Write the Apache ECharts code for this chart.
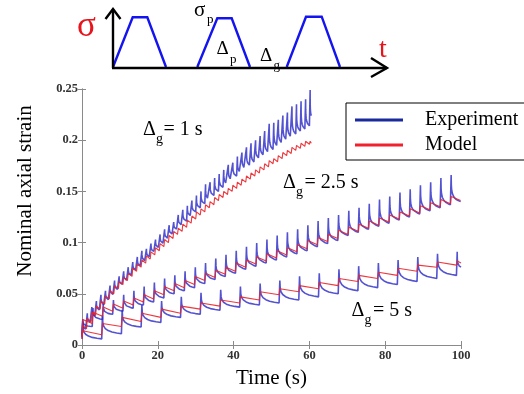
<!DOCTYPE html>
<html>
<head>
<meta charset="utf-8">
<script src="https://cdn.jsdelivr.net/npm/echarts@6/dist/echarts.min.js"></script>
<style>
html,body{margin:0;padding:0;background:#fff;}
#chart{width:524px;height:394px;}
</style>
</head>
<body>
<div id="chart"></div>
<script>
// ---- Data ----
const xTicks = [0, 20, 40, 60, 80, 100];
const yTicks = [0, 0.05, 0.1, 0.15, 0.2, 0.25];
const legendNames = ['Experiment', 'Model'];

// Cycle periods (load + gap) in seconds, and end time of each test
const period1 = 1.2, period25 = 2.7, period5 = 5.2;
const end1 = 60.5, end25 = 100, end5 = 100;
const start1 = 0.010, start25 = 0.008, start5 = 0.006;

// Delta_g = 1 s : per cycle peak / end-of-cycle values
const expPeak1 = [0.024,0.031,0.037,0.043,0.049,0.053,0.058,0.063,0.067,0.072,
  0.076,0.081,0.086,0.092,0.094,0.099,0.103,0.108,0.113,0.117,
  0.120,0.127,0.132,0.136,0.141,0.146,0.150,0.157,0.159,0.163,
  0.167,0.171,0.176,0.178,0.184,0.188,0.193,0.197,0.200,0.204,
  0.209,0.216,0.217,0.220,0.224,0.227,0.233,0.235,0.238,0.240,0.249];
const expTrough1 = [0.015,0.022,0.028,0.034,0.039,0.044,0.049,0.054,0.059,0.063,
  0.068,0.073,0.077,0.082,0.086,0.091,0.095,0.099,0.104,0.108,
  0.113,0.117,0.121,0.126,0.130,0.134,0.138,0.142,0.146,0.150,
  0.154,0.157,0.161,0.165,0.168,0.172,0.175,0.178,0.182,0.185,
  0.188,0.191,0.194,0.197,0.200,0.203,0.206,0.209,0.211,0.214,0.224];
const modelHigh1 = [0.019,0.026,0.032,0.038,0.043,0.048,0.053,0.058,0.062,0.066,
  0.070,0.075,0.079,0.083,0.087,0.091,0.095,0.099,0.103,0.107,
  0.111,0.114,0.118,0.122,0.126,0.130,0.133,0.137,0.140,0.144,
  0.147,0.150,0.153,0.156,0.159,0.162,0.165,0.168,0.171,0.174,
  0.177,0.180,0.182,0.185,0.188,0.190,0.193,0.195,0.197,0.199,0.199];
const modelLow1 = [0.016,0.023,0.029,0.035,0.040,0.045,0.050,0.055,0.059,0.063,
  0.067,0.072,0.076,0.080,0.084,0.088,0.092,0.096,0.100,0.104,
  0.108,0.111,0.115,0.119,0.123,0.127,0.130,0.134,0.137,0.141,
  0.144,0.147,0.150,0.153,0.156,0.159,0.162,0.165,0.168,0.171,
  0.174,0.177,0.179,0.182,0.185,0.187,0.190,0.192,0.194,0.196,0.197];

// Delta_g = 2.5 s
const expPeak25 = [0.025,0.036,0.040,0.044,0.049,0.053,0.057,0.061,0.065,0.068,
  0.072,0.076,0.080,0.0845,0.088,0.092,0.096,0.0995,0.103,0.107,
  0.110,0.113,0.117,0.121,0.124,0.127,0.131,0.134,0.138,0.142,
  0.145,0.149,0.152,0.156,0.159,0.163,0.166];
const expTrough25 = [0.018,0.025,0.030,0.033,0.036,0.039,0.042,0.046,0.050,0.053,
  0.056,0.060,0.064,0.067,0.070,0.074,0.077,0.080,0.083,0.086,
  0.089,0.092,0.096,0.099,0.102,0.107,0.110,0.113,0.116,0.119,
  0.122,0.125,0.128,0.131,0.134,0.137,0.140];
const modelHigh25 = [0.025,0.032,0.037,0.040,0.043,0.046,0.049,0.053,0.057,0.060,
  0.063,0.067,0.070,0.073,0.076,0.080,0.083,0.086,0.089,0.092,
  0.095,0.098,0.102,0.105,0.108,0.112,0.115,0.118,0.121,0.124,
  0.127,0.130,0.133,0.136,0.139,0.142,0.145];
const modelLow25 = [0.021,0.028,0.033,0.036,0.039,0.042,0.045,0.049,0.053,0.056,
  0.059,0.063,0.066,0.069,0.072,0.076,0.079,0.082,0.085,0.088,
  0.091,0.094,0.098,0.101,0.104,0.108,0.111,0.114,0.117,0.120,
  0.123,0.126,0.129,0.132,0.135,0.138,0.141];

// Delta_g = 5 s
const expPeak5 = [0.022,0.029,0.0345,0.039,0.043,0.047,0.051,0.054,0.057,0.060,
  0.063,0.067,0.070,0.074,0.077,0.080,0.083,0.086,0.089,0.091];
const expTrough5 = [0.006,0.011,0.0175,0.022,0.027,0.030,0.034,0.037,0.039,0.041,
  0.044,0.047,0.050,0.053,0.056,0.059,0.062,0.065,0.068,0.076];
const modelHigh5 = [0.014,0.021,0.027,0.031,0.035,0.038,0.041,0.044,0.047,0.052,
  0.055,0.058,0.061,0.065,0.068,0.071,0.075,0.078,0.081,0.082];
const modelLow5 = [0.010,0.018,0.023,0.027,0.031,0.035,0.038,0.041,0.044,0.049,
  0.052,0.055,0.058,0.062,0.065,0.068,0.072,0.076,0.078,0.080];

// Shape of the recovery after each load (fraction of gap time, fraction of the drop remaining)
const rise = 0.2;
const decayTime = [0.02, 0.06, 0.15, 0.3, 0.5, 0.75, 1];
const decayLevel = [0.6, 0.42, 0.28, 0.17, 0.09, 0.04, 0];

function expCurve(period, start, peaks, troughs, endT) {
  const pts = [[0, start]];
  for (let k = 0; k < peaks.length; k++) {
    const t0 = k * period;
    const tEnd = Math.min(t0 + period, endT);
    const tp = t0 + rise;
    pts.push([tp, peaks[k]]);
    for (let j = 0; j < decayTime.length; j++) {
      pts.push([tp + decayTime[j] * (tEnd - tp), troughs[k] + decayLevel[j] * (peaks[k] - troughs[k])]);
    }
  }
  return pts;
}
function modelCurve(period, start, highs, lows, endT) {
  const pts = [[0, start]];
  for (let k = 0; k < highs.length; k++) {
    const t0 = k * period;
    const tEnd = Math.min(t0 + period, endT);
    pts.push([t0 + rise, highs[k]]);
    pts.push([tEnd, lows[k]]);
  }
  return pts;
}

const FONT = "'Liberation Serif', 'Times New Roman', serif";
const expColor = 'rgba(45,45,200,0.82)';
const modelColor = 'rgba(236,34,40,0.9)';

function lineSeries(name, data, color, width, z) {
  return {
    name: name, type: 'line', data: data, showSymbol: false, symbol: 'none',
    lineStyle: { color: color, width: width }, itemStyle: { color: color },
    z: z, animation: false, silent: true
  };
}

const chart = echarts.init(document.getElementById('chart'), null, { renderer: 'canvas' });

const axisLineStyle = { color: '#8a8a8a', width: 1 };

function txt(x, y, text, size, color, extra) {
  return Object.assign({
    type: 'text', x: x, y: y, z: 100,
    style: { text: text, fontSize: size, fontFamily: FONT, fill: color || '#000', verticalAlign: 'middle', align: 'left' }
  }, extra || {});
}

const blueSchem = { stroke: '#1414f0', lineWidth: 2.4, fill: null };
const blackSchem = { stroke: '#000', lineWidth: 2.4, fill: null };

const option = {
  backgroundColor: '#fff',
  animation: false,
  grid: { left: 82, right: 63, top: 89, bottom: 37 },
  xAxis: [
    {
      type: 'value', min: 0, max: 100, interval: 20, position: 'bottom',
      axisLine: { show: true, lineStyle: axisLineStyle },
      axisTick: { show: true, inside: true, length: 4, lineStyle: axisLineStyle },
      axisLabel: { fontFamily: FONT, fontWeight: 'bold', fontSize: 12.5, color: '#333', margin: 4,
        formatter: function (v) { return xTicks.indexOf(v) >= 0 ? String(v) : ''; } },
      splitLine: { show: false },
      name: 'Time (s)', nameLocation: 'middle', nameGap: 23,
      nameTextStyle: { fontFamily: FONT, fontSize: 21, color: '#000' }
    },
    {
      type: 'value', min: 0, max: 100, interval: 20, position: 'top',
      axisLine: { show: true, lineStyle: axisLineStyle },
      axisTick: { show: true, inside: true, length: 4, lineStyle: axisLineStyle },
      axisLabel: { show: false }, splitLine: { show: false }
    }
  ],
  yAxis: [
    {
      type: 'value', min: 0, max: 0.25, interval: 0.05, position: 'left',
      axisLine: { show: true, lineStyle: axisLineStyle },
      axisTick: { show: true, inside: true, length: 4, lineStyle: axisLineStyle },
      axisLabel: { fontFamily: FONT, fontWeight: 'bold', fontSize: 12.5, color: '#333', margin: 4,
        formatter: function (v) { return String(+v.toFixed(2)); } },
      splitLine: { show: false },
      name: 'Nominal axial strain', nameLocation: 'middle', nameGap: 46,
      nameTextStyle: { fontFamily: FONT, fontSize: 21, color: '#000', padding: [0, 0, 0, 52] }
    },
    {
      type: 'value', min: 0, max: 0.25, interval: 0.05, position: 'right',
      axisLine: { show: true, lineStyle: axisLineStyle },
      axisTick: { show: true, inside: true, length: 4, lineStyle: axisLineStyle },
      axisLabel: { show: false }, splitLine: { show: false }
    }
  ],
  legend: {
    orient: 'vertical', left: 346, top: 103,
    backgroundColor: '#fff', borderColor: '#000', borderWidth: 1,
    padding: [7, 40, 5, 9],
    itemWidth: 48, itemHeight: 3, itemGap: 5,
    textStyle: { fontFamily: FONT, fontSize: 20, color: '#000', padding: [0, 0, 0, 17] },
    data: [
      { name: legendNames[0], icon: 'rect', itemStyle: { color: '#1a2a9c' } },
      { name: legendNames[1], icon: 'rect', itemStyle: { color: '#f0202c' } }
    ],
    selectedMode: false
  },
  series: [
    lineSeries(legendNames[0], expCurve(period1, start1, expPeak1, expTrough1, end1), expColor, 1.6, 2),
    lineSeries(legendNames[0], expCurve(period25, start25, expPeak25, expTrough25, end25), expColor, 1.6, 2),
    lineSeries(legendNames[0], expCurve(period5, start5, expPeak5, expTrough5, end5), expColor, 1.6, 2),
    lineSeries(legendNames[1], modelCurve(period1, start1, modelHigh1, modelLow1, end1), modelColor, 1.1, 3),
    lineSeries(legendNames[1], modelCurve(period25, start25, modelHigh25, modelLow25, end25), modelColor, 1.1, 3),
    lineSeries(legendNames[1], modelCurve(period5, start5, modelHigh5, modelLow5, end5), modelColor, 1.1, 3)
  ],
  graphic: [
    // loading schematic
    { type: 'polyline', z: 50, shape: { points: [[113, 67], [132.7, 17.3], [147.3, 17.3], [166, 67]] }, style: blueSchem },
    { type: 'polyline', z: 50, shape: { points: [[197.3, 67], [217.3, 18.3], [231.7, 18.3], [250, 67]] }, style: blueSchem },
    { type: 'polyline', z: 50, shape: { points: [[286.7, 67], [306, 16.7], [321.7, 16.7], [340, 67]] }, style: blueSchem },
    { type: 'line', z: 51, shape: { x1: 113, y1: 68, x2: 113, y2: 9 }, style: blackSchem },
    { type: 'polyline', z: 51, shape: { points: [[105.5, 19], [113, 9], [120.5, 19]] }, style: blackSchem },
    { type: 'line', z: 51, shape: { x1: 112, y1: 68, x2: 387, y2: 68 }, style: blackSchem },
    { type: 'polyline', z: 51, shape: { points: [[371, 58], [387, 68], [371, 77]] }, style: blackSchem },
    txt(77, 27, 'σ', 35, '#e8141c'),
    txt(379, 50, 't', 28, '#e8141c'),
    txt(194, 10, 'σ', 21, '#000'),
    txt(207, 20, 'p', 13, '#000'),
    txt(216.5, 49, 'Δ', 19, '#000'),
    txt(230, 60, 'p', 13, '#000'),
    txt(260, 56, 'Δ', 19, '#000'),
    txt(273.5, 66, 'g', 13, '#000'),
    // curve annotations
    txt(143, 130, 'Δ', 20, '#000'),
    txt(156, 139.5, 'g', 14, '#000'),
    txt(163.5, 130, '= 1 s', 20, '#000'),
    txt(283, 183, 'Δ', 20, '#000'),
    txt(296, 192.5, 'g', 14, '#000'),
    txt(304.5, 183, '= 2.5 s', 20, '#000'),
    txt(351.5, 311, 'Δ', 20, '#000'),
    txt(364.5, 320.5, 'g', 14, '#000'),
    txt(373, 311, '= 5 s', 20, '#000')
  ]
};
chart.setOption(option);
</script>
</body>
</html>
